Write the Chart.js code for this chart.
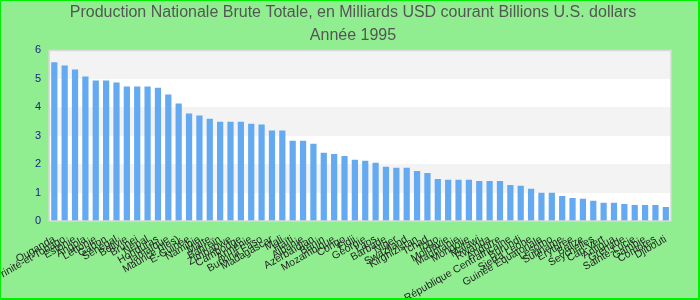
<!DOCTYPE html>
<html lang="fr">
<head>
<meta charset="UTF-8">
<title>PNB 1995</title>
<script src="https://cdn.jsdelivr.net/npm/chart.js"></script>
<style>
  body { margin: 0; background: #90ee90; }
  .cadre { width: 700px; height: 300px; box-sizing: border-box; border: 1px solid #00ee00; border-right-width: 2px; border-bottom-width: 2px; }
</style>
</head>
<body>
<div class="cadre">
  <canvas id="pnb" width="697" height="297"></canvas>
</div>
<script>
// pays (ordre décroissant)
const pays = [
  'Ouganda', 'Trinité-et-Tobago', 'Estonie', 'Angola', 'Lettonie', 'Gabon', 'Sénégal', 'Bolivie',
  'Brunei', 'Népal', 'Honduras', 'Jamaïque', 'Maurice (îles)', 'E-Guinée', 'Namibie', 'Malte',
  'Bahreïn', 'Zimbabwe', 'Cambodge', 'Arménie', 'Burkina Faso', 'Madagascar', 'Mali', 'Haïti',
  'Albanie', 'Azerbaïdjan', 'Bénin', 'Mozambique', 'Congo', 'Fidji', 'Géorgie', 'Laos',
  'Barbade', 'Niger', 'Swaziland', 'Kirghizistan', 'Tchad', 'Togo', 'Moldavie', 'Mauritanie',
  'Mongolie', 'Malawi', 'Rwanda', 'Andorre', 'République Centrafricaine', 'Burundi', 'Sierra Leone', 'Guinée Équatoriale',
  'Lesotho', 'Suriname', 'Érythrée', 'Belize', 'Seychelles', 'Cap-Vert', 'Antigua', 'Grenade',
  'Sainte-Lucie', 'Gambie', 'Comores', 'Djibouti'
];

// PNB en milliards USD courants
const pnb = [
  5.58, 5.47, 5.33, 5.08, 4.94, 4.94, 4.87, 4.73,
  4.73, 4.73, 4.69, 4.45, 4.13, 3.78, 3.71, 3.60,
  3.49, 3.49, 3.49, 3.42, 3.39, 3.18, 3.18, 2.82,
  2.82, 2.72, 2.40, 2.36, 2.29, 2.15, 2.12, 2.05,
  1.91, 1.87, 1.87, 1.76, 1.69, 1.48, 1.45, 1.45,
  1.45, 1.41, 1.41, 1.41, 1.27, 1.24, 1.13, 0.99,
  0.99, 0.88, 0.81, 0.78, 0.71, 0.64, 0.64, 0.60,
  0.56, 0.56, 0.56, 0.49
];

const titre = ['Production Nationale Brute Totale, en Milliards USD courant Billions U.S. dollars', 'Année 1995'];

// fond vert + bandes alternées dans la zone du graphique
const fondBandes = {
  id: 'fondBandes',
  beforeDraw(chart) {
    const { ctx, chartArea, scales } = chart;
    ctx.save();
    ctx.fillStyle = '#90ee90';
    ctx.fillRect(0, 0, chart.width, chart.height);
    const y = scales.y;
    for (let v = 0; v < 6; v++) {
      const haut = Math.round(y.getPixelForValue(v + 1));
      const bas = Math.round(y.getPixelForValue(v));
      ctx.fillStyle = (v % 2 === 0) ? '#ffffff' : '#f3f3f3';
      ctx.fillRect(chartArea.left, haut, chartArea.right - chartArea.left, bas - haut);
    }
    ctx.restore();
  },
  afterDraw(chart) {
    const { ctx, chartArea } = chart;
    ctx.save();
    ctx.strokeStyle = '#d8d8d8';
    ctx.lineWidth = 1.5;
    ctx.strokeRect(chartArea.left, chartArea.top, chartArea.right - chartArea.left, chartArea.bottom - chartArea.top);
    ctx.restore();
  }
};

new Chart(document.getElementById('pnb'), {
  type: 'bar',
  data: {
    labels: pays,
    datasets: [{
      data: pnb,
      backgroundColor: '#63aaf2',
      barPercentage: 0.6,
      categoryPercentage: 1
    }]
  },
  options: {
    responsive: false,
    animation: false,
    layout: { padding: { left: 34, right: 27, top: 0, bottom: 0 } },
    plugins: {
      legend: { display: false },
      tooltip: { enabled: false },
      title: {
        display: true,
        text: titre,
        color: '#555555',
        font: { family: 'Liberation Sans, Arial, sans-serif', size: 16, weight: 'normal', lineHeight: 1.45 },
        padding: { top: 0, bottom: 3 }
      }
    },
    scales: {
      x: {
        grid: { display: false },
        border: { display: false },
        afterFit(scale) { scale.height = 77; },
        ticks: {
          autoSkip: false,
          minRotation: 30,
          maxRotation: 30,
          padding: 4,
          color: '#222222',
          font: { family: 'Liberation Sans, Arial, sans-serif', size: 10.5 }
        }
      },
      y: {
        min: 0,
        max: 6,
        grid: { display: false },
        border: { display: false },
        ticks: {
          stepSize: 1,
          padding: 0,
          color: '#1a1a8c',
          font: { family: 'Liberation Sans, Arial, sans-serif', size: 11 }
        }
      }
    }
  },
  plugins: [fondBandes]
});
</script>
</body>
</html>
